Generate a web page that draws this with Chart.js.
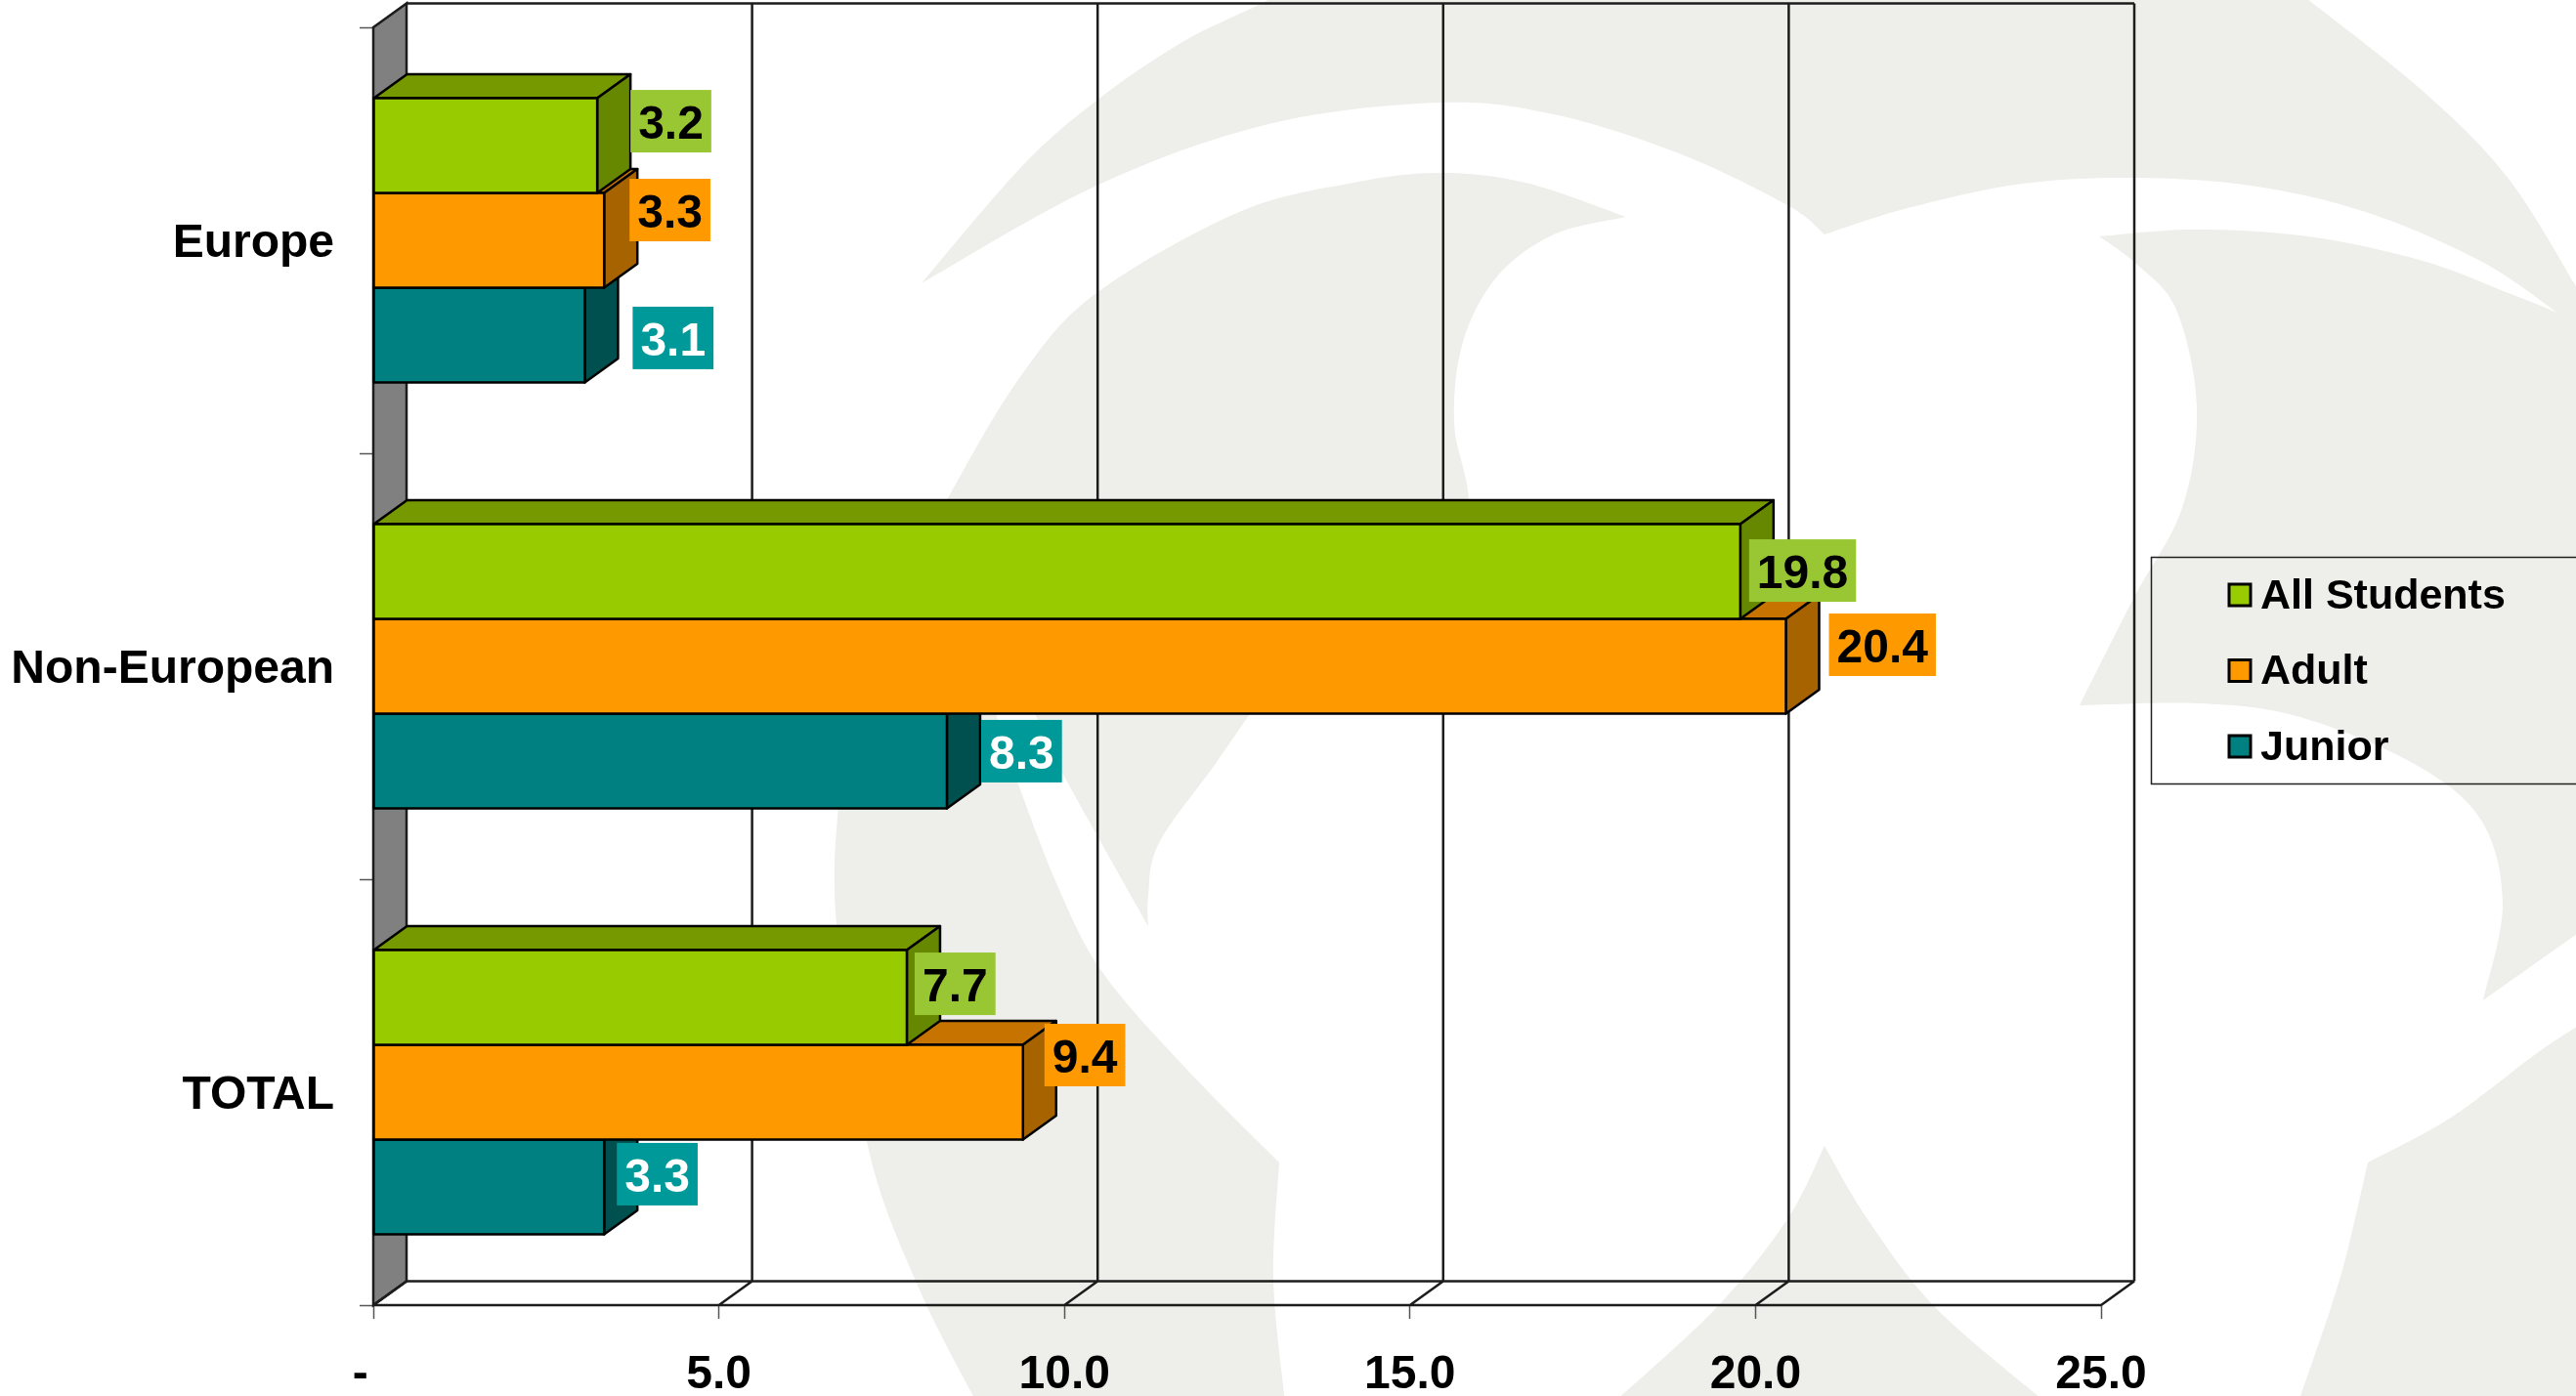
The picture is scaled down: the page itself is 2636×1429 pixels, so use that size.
<!DOCTYPE html>
<html>
<head>
<meta charset="utf-8">
<style>
html,body{margin:0;padding:0;background:#fff;overflow:hidden}
#wrap{position:absolute;left:0;top:0;width:2636px;height:1429px}
</style>
<script src="https://cdn.jsdelivr.net/npm/chart.js@4/dist/chart.umd.min.js"></script>
</head>
<body>
<div id="wrap"><canvas id="c" width="2636" height="1429"></canvas></div>
<script>
// ---- data ----
const categories = ['Europe', 'Non-European', 'TOTAL'];
const seriesNames = ['All Students', 'Adult', 'Junior'];
const allStudents = [3.24, 19.78, 7.72];
const adult = [3.34, 20.44, 9.4];
const junior = [3.06, 8.3, 3.34];
const xTickLabels = ['-', '5.0', '10.0', '15.0', '20.0', '25.0'];

// ---- style ----
const FONT = 'bold 48px "Liberation Sans", Arial, sans-serif';
const LEGEND_FONT = 'bold 43px "Liberation Sans", Arial, sans-serif';
const DEPTH_X = 34, DEPTH_Y = 24.5;
const LINE = '#1c1c1c';
const faces = [
  {front:'#99CC00', top:'#779900', side:'#668800', label:'#99C633', text:'#000'},
  {front:'#FF9900', top:'#C67300', side:'#A66300', label:'#FF9900', text:'#000'},
  {front:'#008080', top:'#006666', side:'#005050', label:'#009999', text:'#fff'}
];
// value-label placement relative to the bar tip / bar centre, hand-set per label in the reference
const labelGap = [[34, 9, 8], [26, 44, 22], [49, 35, 13]];
const labelRise = [[-25, -1, -14], [-31, -22, -38], [3, -10, -13]];

// ---- decorative watermark behind the chart: each shape is a list of smooth runs joined at corners ----
const WATERMARK = '#EEEFEA';
const watermark = [
  // top wing
  [[[943,290],[1046,170],[1122,103],[1210,43],[1292,3],[1300,-5]],
   [[1300,-5],[2356,-5]],
   [[2356,-5],[2479,93],[2567,183],[2640,300]],
   [[2640,300],[2640,345],[2617,320]],
   [[2617,320],[2538,267],[2421,217],[2303,190],[2186,182],[2069,188],[1952,213],[1867,240]],
   [[1867,240],[1829,210],[1718,157],[1590,117],[1473,105],[1298,127],[1122,190],[943,290]]],
  // right wing
  [[[2148,242],[2245,235],[2362,242],[2479,267],[2567,300],[2617,320]],
   [[2617,320],[2640,340],[2640,954]],
   [[2640,954],[2541,1024]],
   [[2541,1024],[2561,925],[2538,838],[2467,780],[2350,733],[2250,720],[2128,722]],
   [[2128,722],[2183,613],[2233,520],[2248,417],[2227,317],[2186,270],[2148,242]]],
  // central arc with lower-left sweep
  [[[870,700],[970,510],[1046,383],[1122,300],[1268,217],[1385,187],[1473,177],[1561,187],[1664,222]],
   [[1664,222],[1590,240],[1532,283],[1497,350],[1488,433],[1503,510],[1500,600]],
   [[1500,600],[1300,700]],
   [[1300,700],[1245,780],[1186,863],[1175,917],[1175,948]],
   [[1175,948],[1081,780],[1060,733],[1000,640]],
   [[1000,640],[1020,733],[1034,780],[1081,904],[1128,995],[1210,1090],[1309,1190]],
   [[1309,1190],[1303,1310],[1315,1435]],
   [[1315,1435],[999,1435]],
   [[999,1435],[940,1318],[888,1173],[856,946],[858,821],[870,700]]],
  // bottom centre peak
  [[[1867,1173],[1829,1248],[1756,1339],[1652,1435]],
   [[1652,1435],[2093,1435]],
   [[2093,1435],[1981,1339],[1911,1248],[1867,1173]]],
  // bottom right
  [[[2423,1190],[2508,1144],[2596,1078],[2640,1049]],
   [[2640,1049],[2640,1435],[2352,1435]],
   [[2352,1435],[2385,1339],[2403,1277],[2423,1190]]]
];

function smoothRun(ctx, pts) {
  for (let i = 0; i < pts.length - 1; i++) {
    const p0 = pts[Math.max(i - 1, 0)], p1 = pts[i], p2 = pts[i + 1], p3 = pts[Math.min(i + 2, pts.length - 1)];
    ctx.bezierCurveTo(p1[0] + (p2[0] - p0[0]) / 6, p1[1] + (p2[1] - p0[1]) / 6,
                      p2[0] - (p3[0] - p1[0]) / 6, p2[1] - (p3[1] - p1[1]) / 6, p2[0], p2[1]);
  }
}

function poly(ctx, pts, fill) {
  ctx.beginPath();
  pts.forEach((p, i) => i ? ctx.lineTo(p[0], p[1]) : ctx.moveTo(p[0], p[1]));
  ctx.closePath();
  ctx.fillStyle = fill;
  ctx.fill();
  ctx.stroke();
}

const scene3d = {
  id: 'scene3d',
  beforeDraw(chart) {
    const ctx = chart.ctx;
    ctx.save();
    ctx.fillStyle = WATERMARK;
    watermark.forEach(shape => {
      ctx.beginPath();
      ctx.moveTo(shape[0][0][0], shape[0][0][1]);
      shape.forEach(run => smoothRun(ctx, run));
      ctx.closePath();
      ctx.fill();
    });
    ctx.restore();
  },
  beforeDatasetsDraw(chart) {
    const ctx = chart.ctx, {left, right, top, bottom} = chart.chartArea;
    const x = chart.scales.x;
    ctx.save();
    ctx.strokeStyle = LINE;
    ctx.lineWidth = 2.5;
    ctx.lineJoin = 'miter';
    // side wall
    poly(ctx, [[left, top], [left + DEPTH_X, top - DEPTH_Y], [left + DEPTH_X, bottom - DEPTH_Y], [left, bottom]], '#808080');
    // back wall edges and grid lines
    ctx.beginPath();
    ctx.moveTo(left + DEPTH_X, top - DEPTH_Y); ctx.lineTo(right + DEPTH_X, top - DEPTH_Y);
    ctx.moveTo(left + DEPTH_X, bottom - DEPTH_Y); ctx.lineTo(right + DEPTH_X, bottom - DEPTH_Y);
    ctx.moveTo(left, bottom); ctx.lineTo(right, bottom);
    x.ticks.forEach((t, i) => {
      const px = x.getPixelForTick(i);
      if (i > 0) {
        ctx.moveTo(px + DEPTH_X, top - DEPTH_Y);
        ctx.lineTo(px + DEPTH_X, bottom - DEPTH_Y);
      }
      ctx.moveTo(px + DEPTH_X, bottom - DEPTH_Y);
      ctx.lineTo(px, bottom);
    });
    ctx.stroke();
    ctx.restore();
  },
  afterDatasetDraw(chart, args) {
    const ctx = chart.ctx, f = faces[args.index];
    ctx.save();
    ctx.strokeStyle = '#000';
    ctx.lineWidth = 2.5;
    ctx.lineJoin = 'round';
    args.meta.data.forEach(el => {
      const p = el.getProps(['x', 'y', 'base', 'height'], true);
      const t = p.y - p.height / 2, b = p.y + p.height / 2;
      poly(ctx, [[p.base, t], [p.base + DEPTH_X, t - DEPTH_Y], [p.x + DEPTH_X, t - DEPTH_Y], [p.x, t]], f.top);
      poly(ctx, [[p.x, t], [p.x + DEPTH_X, t - DEPTH_Y], [p.x + DEPTH_X, b - DEPTH_Y], [p.x, b]], f.side);
      poly(ctx, [[p.base, t], [p.x, t], [p.x, b], [p.base, b]], f.front);
    });
    ctx.restore();
  },
  afterDraw(chart) {
    const ctx = chart.ctx;
    ctx.save();
    // value labels
    ctx.font = FONT;
    ctx.textBaseline = 'middle';
    ctx.textAlign = 'left';
    chart.data.datasets.forEach((ds, d) => {
      const meta = chart.getDatasetMeta(d), f = faces[d];
      meta.data.forEach((el, i) => {
        const p = el.getProps(['x', 'y'], true);
        const txt = ds.data[i].toFixed(1);
        const w = ctx.measureText(txt).width + 16;
        const bx = p.x + labelGap[d][i], cy = p.y + labelRise[d][i];
        ctx.fillStyle = f.label;
        ctx.fillRect(bx, cy - 32, w, 64);
        ctx.fillStyle = f.text;
        ctx.fillText(txt, bx + 8, cy + 5);
      });
    });
    // legend
    ctx.strokeStyle = '#222';
    ctx.lineWidth = 1.5;
    ctx.beginPath();
    ctx.moveTo(2640, 570.5); ctx.lineTo(2201.5, 570.5); ctx.lineTo(2201.5, 802.5); ctx.lineTo(2640, 802.5);
    ctx.stroke();
    ctx.font = LEGEND_FONT;
    seriesNames.forEach((name, i) => {
      const cy = 609 + i * 77.5;
      ctx.fillStyle = faces[i].front;
      ctx.strokeStyle = '#000';
      ctx.lineWidth = 3;
      ctx.fillRect(2281, cy - 11, 22, 22);
      ctx.strokeRect(2281, cy - 11, 22, 22);
      ctx.fillStyle = '#000';
      ctx.fillText(name, 2313, cy + 2);
    });
    ctx.restore();
  }
};

new Chart(document.getElementById('c'), {
  type: 'bar',
  plugins: [scene3d],
  data: {
    labels: categories,
    datasets: [
      {label: seriesNames[0], data: allStudents, backgroundColor: faces[0].front},
      {label: seriesNames[1], data: adult, backgroundColor: faces[1].front},
      {label: seriesNames[2], data: junior, backgroundColor: faces[2].front}
    ]
  },
  options: {
    indexAxis: 'y',
    responsive: false,
    animation: false,
    layout: {padding: {left: 0, top: 28, right: 486, bottom: 0}},
    categoryPercentage: 0.667,
    barPercentage: 1,
    plugins: {legend: {display: false}, tooltip: {enabled: false}},
    scales: {
      x: {
        min: 0, max: 25,
        afterFit(s) { s.height = 93; s.paddingLeft = 0; s.paddingRight = 0; },
        afterBuildTicks(s) { s.ticks = xTickLabels.map((_, i) => ({value: i * 5})); },
        border: {display: false},
        grid: {drawOnChartArea: false, drawTicks: true, tickLength: 14, tickColor: '#555', tickWidth: 1.5},
        ticks: {
          maxRotation: 0, autoSkip: false, color: '#000', padding: 29,
          font: {family: '"Liberation Sans", Arial, sans-serif', size: 48, weight: 'bold'},
          callback: (v, i) => i === 0 ? xTickLabels[0] + '  ' : xTickLabels[i]
        }
      },
      y: {
        afterFit(s) { s.width = 382; s.paddingTop = 0; s.paddingBottom = 0; },
        border: {display: false},
        grid: {drawOnChartArea: false, drawTicks: true, tickLength: 14, tickColor: '#555', tickWidth: 1.5},
        ticks: {
          color: '#000', padding: 26, labelOffset: 4,
          font: {family: '"Liberation Sans", Arial, sans-serif', size: 48, weight: 'bold'}
        }
      }
    }
  }
});
</script>
</body>
</html>
